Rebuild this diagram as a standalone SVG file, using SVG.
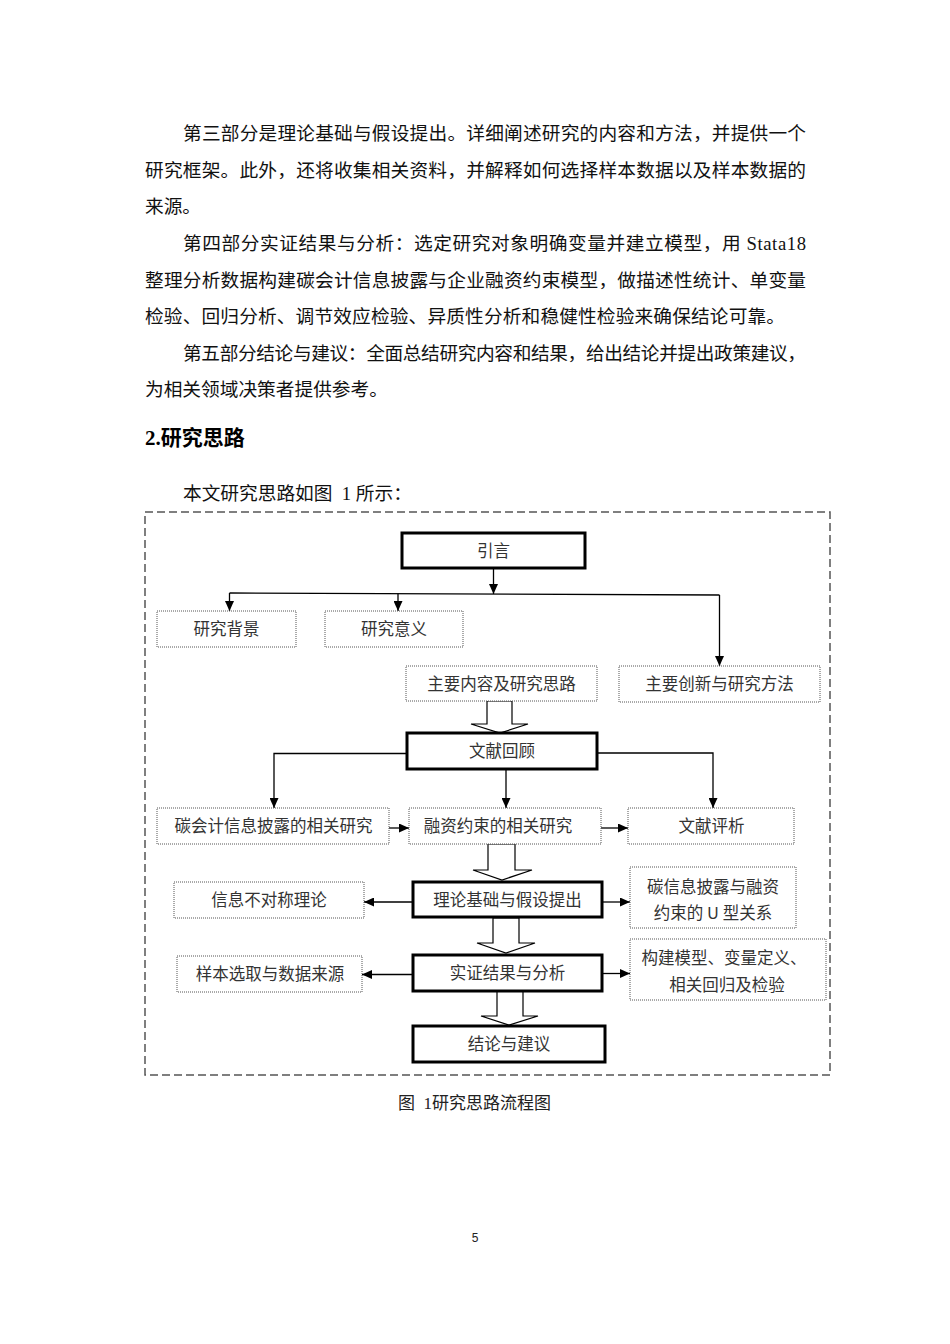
<svg xmlns="http://www.w3.org/2000/svg" width="950" height="1344" viewBox="0 0 950 1344">
<style>
.body{font-family:"Liberation Serif","Noto Sans CJK SC",serif;font-size:18.7px;fill:#111}
.head{font-family:"Liberation Serif","Noto Sans CJK SC",serif;font-size:21px;font-weight:bold;fill:#000}
.cap{font-family:"Liberation Serif","Noto Sans CJK SC",serif;font-size:17px;fill:#222}
.pg{font-family:"Liberation Sans",sans-serif;font-size:12px;fill:#222}
.lbl{font-family:"Noto Sans CJK SC","Liberation Sans",sans-serif;font-size:16.5px;fill:#333;text-anchor:middle}
.thick{fill:#fff;stroke:#000;stroke-width:3}
.dot{fill:#fff;stroke:#555;stroke-width:1;stroke-dasharray:1 1}
.conn{fill:none;stroke:#000;stroke-width:1.3}
.blk{fill:#fff;stroke:#000;stroke-width:1.2}
</style>
<defs>
<marker id="ah" markerUnits="userSpaceOnUse" markerWidth="10" markerHeight="9" refX="10" refY="4.5" orient="auto">
<path d="M0,0 L10,4.5 L0,9 z" fill="#000"/>
</marker>
</defs>
<rect width="950" height="1344" fill="#fff"/>

<g id="bodytext">
<text class="body" x="183" y="140" textLength="623" lengthAdjust="spacing">第三部分是理论基础与假设提出。详细阐述研究的内容和方法，并提供一个</text>
<text class="body" x="145" y="177" textLength="661" lengthAdjust="spacing">研究框架。此外，还将收集相关资料，并解释如何选择样本数据以及样本数据的</text>
<text class="body" x="145" y="213">来源。</text>
<text class="body" x="183" y="250" textLength="623" lengthAdjust="spacing">第四部分实证结果与分析：选定研究对象明确变量并建立模型，用 Stata18</text>
<text class="body" x="145" y="287" textLength="661" lengthAdjust="spacing">整理分析数据构建碳会计信息披露与企业融资约束模型，做描述性统计、单变量</text>
<text class="body" x="145" y="323" textLength="640" lengthAdjust="spacing">检验、回归分析、调节效应检验、异质性分析和稳健性检验来确保结论可靠。</text>
<text class="body" x="183" y="360" textLength="623" lengthAdjust="spacing">第五部分结论与建议：全面总结研究内容和结果，给出结论并提出政策建议，</text>
<text class="body" x="145" y="396">为相关领域决策者提供参考。</text>
<text class="head" x="145" y="445">2.研究思路</text>
<text class="body" x="183" y="500" xml:space="preserve">本文研究思路如图  1 所示：</text>
</g>

<rect id="frame" x="145" y="512" width="685" height="563" fill="none" stroke="#555" stroke-width="1.5" stroke-dasharray="8 4"/>

<g id="connectors">
<path class="conn" d="M493.5,568 V594" marker-end="url(#ah)"/>
<path class="conn" d="M229.5,593 L719.5,595"/>
<path class="conn" d="M229.5,593 V611" marker-end="url(#ah)"/>
<path class="conn" d="M398,593.6 V611" marker-end="url(#ah)"/>
<path class="conn" d="M719.5,595 V666" marker-end="url(#ah)"/>
<path class="conn" d="M407,753.5 H274 V808" marker-end="url(#ah)"/>
<path class="conn" d="M506,769 V808" marker-end="url(#ah)"/>
<path class="conn" d="M597,753 H713 V808" marker-end="url(#ah)"/>
<path class="conn" d="M389,828 H409" marker-end="url(#ah)"/>
<path class="conn" d="M601,828 H628" marker-end="url(#ah)"/>
<path class="conn" d="M413,902 H364" marker-end="url(#ah)"/>
<path class="conn" d="M602,902 H630" marker-end="url(#ah)"/>
<path class="conn" d="M413,974.5 H362" marker-end="url(#ah)"/>
<path class="conn" d="M602,973.5 H630" marker-end="url(#ah)"/>
<polygon class="blk" points="487,701 512,701 512,724 528,724 500,733 471,724 487,724"/>
<polygon class="blk" points="488,844 515,844 515,870 532,870 502,880 473,870 488,870"/>
<polygon class="blk" points="493,918 519,918 519,943 535,943 506,953 477,943 493,943"/>
<polygon class="blk" points="497,991 523,991 523,1016 538,1016 509,1025 481,1016 497,1016"/>
</g>

<g id="n-yinyan"><rect class="thick" x="402" y="533" width="183" height="35"/><text class="lbl" x="493.5" y="556.5">引言</text></g>
<g id="n-beijing"><rect class="dot" x="157" y="611" width="139" height="36"/><text class="lbl" x="226.5" y="635">研究背景</text></g>
<g id="n-yiyi"><rect class="dot" x="325" y="611" width="138" height="36"/><text class="lbl" x="394" y="635">研究意义</text></g>
<g id="n-neirong"><rect class="dot" x="406" y="666" width="191" height="35"/><text class="lbl" x="501.5" y="689.5">主要内容及研究思路</text></g>
<g id="n-chuangxin"><rect class="dot" x="619" y="666" width="201" height="36"/><text class="lbl" x="719.5" y="690">主要创新与研究方法</text></g>
<g id="n-wenxian"><rect class="thick" x="407" y="733" width="190" height="36"/><text class="lbl" x="502" y="757">文献回顾</text></g>
<g id="n-tankuaiji"><rect class="dot" x="157" y="808" width="232" height="36"/><text class="lbl" x="273.5" y="832">碳会计信息披露的相关研究</text></g>
<g id="n-rongzi"><rect class="dot" x="409" y="808" width="192" height="36"/><text class="lbl" x="498" y="832">融资约束的相关研究</text></g>
<g id="n-pingxi"><rect class="dot" x="628" y="808" width="166" height="36"/><text class="lbl" x="711.5" y="832">文献评析</text></g>
<g id="n-lilun"><rect class="thick" x="413" y="882" width="189" height="35"/><text class="lbl" x="507.5" y="905.5">理论基础与假设提出</text></g>
<g id="n-xinxi"><rect class="dot" x="174" y="882" width="190" height="36"/><text class="lbl" x="269" y="906">信息不对称理论</text></g>
<g id="n-uxing"><rect class="dot" x="630" y="867" width="166" height="61"/><text class="lbl" x="713" y="892.5">碳信息披露与融资</text><text class="lbl" x="713" y="919" xml:space="preserve">约束的 U 型关系</text></g>
<g id="n-shizheng"><rect class="thick" x="413" y="955" width="189" height="36"/><text class="lbl" x="507.5" y="979">实证结果与分析</text></g>
<g id="n-yangben"><rect class="dot" x="177" y="956" width="185" height="36"/><text class="lbl" x="270" y="980">样本选取与数据来源</text></g>
<g id="n-goujian"><rect class="dot" x="630" y="939" width="196" height="61"/><text class="lbl" x="724" y="964">构建模型、变量定义、</text><text class="lbl" x="727" y="991">相关回归及检验</text></g>
<g id="n-jielun"><rect class="thick" x="413" y="1026" width="192" height="36"/><text class="lbl" x="509" y="1050">结论与建议</text></g>

<text class="cap" x="398" y="1109" xml:space="preserve">图  1研究思路流程图</text>
<text class="pg" x="475" y="1242" text-anchor="middle">5</text>
</svg>
